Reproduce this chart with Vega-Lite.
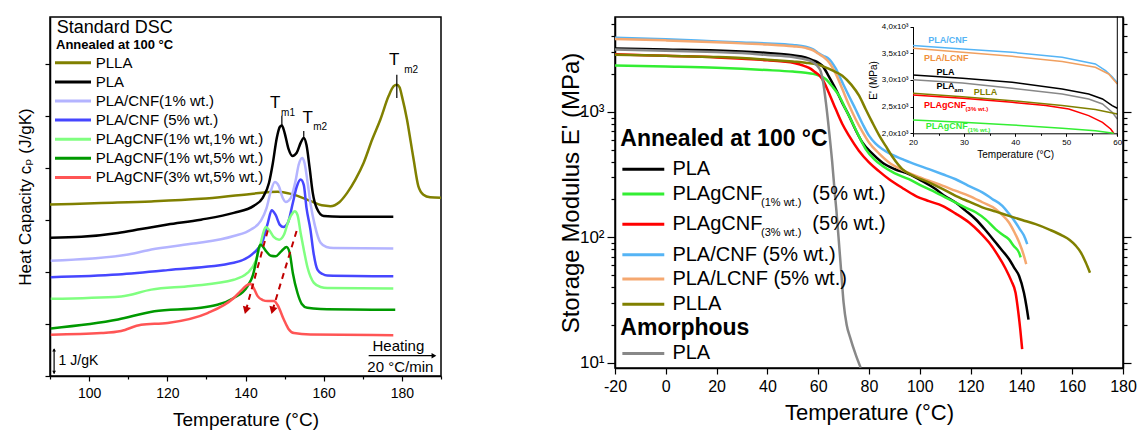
{
"$schema": "https://vega.github.io/schema/vega-lite/v6.json",
"background": "white",
"padding": {"left": 15, "top": 14, "right": 18, "bottom": 0},
"config": {
  "font": "Liberation Sans, DejaVu Sans, sans-serif",
  "view": {"stroke": "black", "strokeWidth": 1.5},
  "axis": {"grid": false, "labelOverlap": false, "domainColor": "black", "domainWidth": 1.5, "tickColor": "black", "tickWidth": 1.2, "labelColor": "black", "titleColor": "black", "titleFontWeight": "normal"},
  "text": {"color": "black"}
},
"datasets": {
  "dsc": [
    {"sample":"PLLA","T":90,"cp":6.59},{"sample":"PLLA","T":103.1,"cp":6.65},{"sample":"PLLA","T":115.9,"cp":6.71},{"sample":"PLLA","T":128.6,"cp":6.81},{"sample":"PLLA","T":141.4,"cp":7.0},{"sample":"PLLA","T":148.2,"cp":7.08},{"sample":"PLLA","T":151.6,"cp":7.0},{"sample":"PLLA","T":156.6,"cp":6.73},{"sample":"PLLA","T":159.5,"cp":6.56},{"sample":"PLLA","T":161.7,"cp":6.53},{"sample":"PLLA","T":164,"cp":6.68},{"sample":"PLLA","T":166,"cp":7.04},{"sample":"PLLA","T":168.1,"cp":7.55},{"sample":"PLLA","T":170.2,"cp":8.19},{"sample":"PLLA","T":172.4,"cp":9.09},{"sample":"PLLA","T":174.5,"cp":9.86},{"sample":"PLLA","T":176.6,"cp":10.76},{"sample":"PLLA","T":177.9,"cp":11.14},{"sample":"PLLA","T":178.7,"cp":11.2},{"sample":"PLLA","T":179.4,"cp":11.1},{"sample":"PLLA","T":180.0,"cp":10.76},{"sample":"PLLA","T":181.3,"cp":9.86},{"sample":"PLLA","T":182.3,"cp":8.96},{"sample":"PLLA","T":183.0,"cp":8.32},{"sample":"PLLA","T":184.2,"cp":7.3},{"sample":"PLLA","T":185.5,"cp":6.97},{"sample":"PLLA","T":187.2,"cp":6.87},{"sample":"PLLA","T":190,"cp":6.85},
    {"sample":"PLA","T":90.2,"cp":5.31},{"sample":"PLA","T":98.05,"cp":5.35},{"sample":"PLA","T":107.4,"cp":5.5},{"sample":"PLA","T":113.3,"cp":5.65},{"sample":"PLA","T":120.1,"cp":5.82},{"sample":"PLA","T":128.6,"cp":6.01},{"sample":"PLA","T":137.0,"cp":6.27},{"sample":"PLA","T":142.1,"cp":6.54},{"sample":"PLA","T":144.4,"cp":6.85},{"sample":"PLA","T":146.0,"cp":7.42},{"sample":"PLA","T":147.0,"cp":8.19},{"sample":"PLA","T":148.0,"cp":9.15},{"sample":"PLA","T":148.8,"cp":9.58},{"sample":"PLA","T":149.3,"cp":9.63},{"sample":"PLA","T":150.0,"cp":9.35},{"sample":"PLA","T":151.0,"cp":8.73},{"sample":"PLA","T":152.0,"cp":8.46},{"sample":"PLA","T":153.1,"cp":8.58},{"sample":"PLA","T":154.1,"cp":8.96},{"sample":"PLA","T":154.9,"cp":9.15},{"sample":"PLA","T":155.6,"cp":8.88},{"sample":"PLA","T":156.4,"cp":8.0},{"sample":"PLA","T":157.2,"cp":7.04},{"sample":"PLA","T":158.2,"cp":6.46},{"sample":"PLA","T":160.0,"cp":6.15},{"sample":"PLA","T":164.3,"cp":6.12},{"sample":"PLA","T":177.8,"cp":6.12},
    {"sample":"PLA/CNF(1% wt.)","T":90.2,"cp":4.43},{"sample":"PLA/CNF(1% wt.)","T":110.0,"cp":4.67},{"sample":"PLA/CNF(1% wt.)","T":115.9,"cp":4.86},{"sample":"PLA/CNF(1% wt.)","T":126.1,"cp":5.08},{"sample":"PLA/CNF(1% wt.)","T":137.0,"cp":5.38},{"sample":"PLA/CNF(1% wt.)","T":141.4,"cp":5.63},{"sample":"PLA/CNF(1% wt.)","T":143.9,"cp":5.96},{"sample":"PLA/CNF(1% wt.)","T":145.4,"cp":6.46},{"sample":"PLA/CNF(1% wt.)","T":146.5,"cp":7.12},{"sample":"PLA/CNF(1% wt.)","T":147.5,"cp":7.46},{"sample":"PLA/CNF(1% wt.)","T":148.5,"cp":7.31},{"sample":"PLA/CNF(1% wt.)","T":149.5,"cp":6.85},{"sample":"PLA/CNF(1% wt.)","T":150.3,"cp":6.69},{"sample":"PLA/CNF(1% wt.)","T":151.6,"cp":6.85},{"sample":"PLA/CNF(1% wt.)","T":152.8,"cp":7.5},{"sample":"PLA/CNF(1% wt.)","T":153.6,"cp":8.12},{"sample":"PLA/CNF(1% wt.)","T":154.5,"cp":8.38},{"sample":"PLA/CNF(1% wt.)","T":155.1,"cp":8.19},{"sample":"PLA/CNF(1% wt.)","T":155.9,"cp":7.42},{"sample":"PLA/CNF(1% wt.)","T":156.6,"cp":6.65},{"sample":"PLA/CNF(1% wt.)","T":157.7,"cp":5.81},{"sample":"PLA/CNF(1% wt.)","T":159.2,"cp":5.12},{"sample":"PLA/CNF(1% wt.)","T":160.7,"cp":4.96},{"sample":"PLA/CNF(1% wt.)","T":162.5,"cp":4.92},{"sample":"PLA/CNF(1% wt.)","T":177.8,"cp":4.9},
    {"sample":"PLA/CNF (5% wt.)","T":90.2,"cp":3.8},{"sample":"PLA/CNF (5% wt.)","T":107.4,"cp":3.9},{"sample":"PLA/CNF (5% wt.)","T":120.1,"cp":4.07},{"sample":"PLA/CNF (5% wt.)","T":137.0,"cp":4.35},{"sample":"PLA/CNF (5% wt.)","T":142.1,"cp":4.73},{"sample":"PLA/CNF (5% wt.)","T":144.4,"cp":5.19},{"sample":"PLA/CNF (5% wt.)","T":145.7,"cp":5.88},{"sample":"PLA/CNF (5% wt.)","T":146.7,"cp":6.37},{"sample":"PLA/CNF (5% wt.)","T":147.7,"cp":6.19},{"sample":"PLA/CNF (5% wt.)","T":148.8,"cp":5.81},{"sample":"PLA/CNF (5% wt.)","T":149.7,"cp":5.73},{"sample":"PLA/CNF (5% wt.)","T":150.8,"cp":5.88},{"sample":"PLA/CNF (5% wt.)","T":152.1,"cp":6.65},{"sample":"PLA/CNF (5% wt.)","T":153.1,"cp":7.27},{"sample":"PLA/CNF (5% wt.)","T":154.1,"cp":7.55},{"sample":"PLA/CNF (5% wt.)","T":154.9,"cp":7.35},{"sample":"PLA/CNF (5% wt.)","T":155.6,"cp":6.46},{"sample":"PLA/CNF (5% wt.)","T":156.6,"cp":5.63},{"sample":"PLA/CNF (5% wt.)","T":157.4,"cp":4.73},{"sample":"PLA/CNF (5% wt.)","T":158.4,"cp":4.09},{"sample":"PLA/CNF (5% wt.)","T":159.7,"cp":3.92},{"sample":"PLA/CNF (5% wt.)","T":160.9,"cp":3.86},{"sample":"PLA/CNF (5% wt.)","T":177.8,"cp":3.83},
    {"sample":"PLAgCNF(1% wt,1% wt.)","T":90.2,"cp":2.97},{"sample":"PLAgCNF(1% wt,1% wt.)","T":108.2,"cp":3.06},{"sample":"PLAgCNF(1% wt,1% wt.)","T":115.9,"cp":3.32},{"sample":"PLAgCNF(1% wt,1% wt.)","T":126.1,"cp":3.46},{"sample":"PLAgCNF(1% wt,1% wt.)","T":137.0,"cp":3.7},{"sample":"PLAgCNF(1% wt,1% wt.)","T":140.5,"cp":3.96},{"sample":"PLAgCNF(1% wt,1% wt.)","T":142.6,"cp":4.42},{"sample":"PLAgCNF(1% wt,1% wt.)","T":143.9,"cp":5.12},{"sample":"PLAgCNF(1% wt,1% wt.)","T":144.7,"cp":5.58},{"sample":"PLAgCNF(1% wt,1% wt.)","T":145.2,"cp":5.73},{"sample":"PLAgCNF(1% wt,1% wt.)","T":146.2,"cp":5.58},{"sample":"PLAgCNF(1% wt,1% wt.)","T":147.2,"cp":5.35},{"sample":"PLAgCNF(1% wt,1% wt.)","T":148.6,"cp":5.24},{"sample":"PLAgCNF(1% wt,1% wt.)","T":149.8,"cp":5.42},{"sample":"PLAgCNF(1% wt,1% wt.)","T":151.0,"cp":5.96},{"sample":"PLAgCNF(1% wt,1% wt.)","T":152.1,"cp":6.27},{"sample":"PLAgCNF(1% wt,1% wt.)","T":152.6,"cp":6.33},{"sample":"PLAgCNF(1% wt,1% wt.)","T":153.3,"cp":6.19},{"sample":"PLAgCNF(1% wt,1% wt.)","T":154.1,"cp":5.5},{"sample":"PLAgCNF(1% wt,1% wt.)","T":154.9,"cp":4.86},{"sample":"PLAgCNF(1% wt,1% wt.)","T":155.9,"cp":4.15},{"sample":"PLAgCNF(1% wt,1% wt.)","T":157.5,"cp":3.58},{"sample":"PLAgCNF(1% wt,1% wt.)","T":159.2,"cp":3.42},{"sample":"PLAgCNF(1% wt,1% wt.)","T":160.9,"cp":3.38},{"sample":"PLAgCNF(1% wt,1% wt.)","T":177.8,"cp":3.36},
    {"sample":"PLAgCNF(1% wt,5% wt.)","T":90.2,"cp":1.83},{"sample":"PLAgCNF(1% wt,5% wt.)","T":107.4,"cp":2.17},{"sample":"PLAgCNF(1% wt,5% wt.)","T":116.7,"cp":2.49},{"sample":"PLAgCNF(1% wt,5% wt.)","T":128.6,"cp":2.62},{"sample":"PLAgCNF(1% wt,5% wt.)","T":137.0,"cp":3.0},{"sample":"PLAgCNF(1% wt,5% wt.)","T":140.5,"cp":3.45},{"sample":"PLAgCNF(1% wt,5% wt.)","T":141.9,"cp":3.88},{"sample":"PLAgCNF(1% wt,5% wt.)","T":142.9,"cp":4.54},{"sample":"PLAgCNF(1% wt,5% wt.)","T":143.4,"cp":4.92},{"sample":"PLAgCNF(1% wt,5% wt.)","T":143.9,"cp":5.05},{"sample":"PLAgCNF(1% wt,5% wt.)","T":145.2,"cp":4.81},{"sample":"PLAgCNF(1% wt,5% wt.)","T":146.5,"cp":4.62},{"sample":"PLAgCNF(1% wt,5% wt.)","T":147.7,"cp":4.6},{"sample":"PLAgCNF(1% wt,5% wt.)","T":149.0,"cp":4.77},{"sample":"PLAgCNF(1% wt,5% wt.)","T":150.5,"cp":4.96},{"sample":"PLAgCNF(1% wt,5% wt.)","T":151.3,"cp":4.73},{"sample":"PLAgCNF(1% wt,5% wt.)","T":152.1,"cp":3.96},{"sample":"PLAgCNF(1% wt,5% wt.)","T":153.3,"cp":3.19},{"sample":"PLAgCNF(1% wt,5% wt.)","T":154.4,"cp":2.77},{"sample":"PLAgCNF(1% wt,5% wt.)","T":155.8,"cp":2.62},{"sample":"PLAgCNF(1% wt,5% wt.)","T":159.2,"cp":2.58},{"sample":"PLAgCNF(1% wt,5% wt.)","T":178.3,"cp":2.55},
    {"sample":"PLAgCNF(3% wt,5% wt.)","T":90.2,"cp":1.59},{"sample":"PLAgCNF(3% wt,5% wt.)","T":103.1,"cp":1.65},{"sample":"PLAgCNF(3% wt,5% wt.)","T":108.2,"cp":1.73},{"sample":"PLAgCNF(3% wt,5% wt.)","T":113.3,"cp":1.97},{"sample":"PLAgCNF(3% wt,5% wt.)","T":120.1,"cp":2.04},{"sample":"PLAgCNF(3% wt,5% wt.)","T":130.3,"cp":2.42},{"sample":"PLAgCNF(3% wt,5% wt.)","T":137.0,"cp":3.0},{"sample":"PLAgCNF(3% wt,5% wt.)","T":138.8,"cp":3.27},{"sample":"PLAgCNF(3% wt,5% wt.)","T":140.1,"cp":3.46},{"sample":"PLAgCNF(3% wt,5% wt.)","T":141.2,"cp":3.55},{"sample":"PLAgCNF(3% wt,5% wt.)","T":142.1,"cp":3.38},{"sample":"PLAgCNF(3% wt,5% wt.)","T":143.1,"cp":3.07},{"sample":"PLAgCNF(3% wt,5% wt.)","T":144.4,"cp":2.92},{"sample":"PLAgCNF(3% wt,5% wt.)","T":145.7,"cp":2.88},{"sample":"PLAgCNF(3% wt,5% wt.)","T":147.3,"cp":2.88},{"sample":"PLAgCNF(3% wt,5% wt.)","T":148.2,"cp":2.73},{"sample":"PLAgCNF(3% wt,5% wt.)","T":149.8,"cp":2.17},{"sample":"PLAgCNF(3% wt,5% wt.)","T":151.0,"cp":1.81},{"sample":"PLAgCNF(3% wt,5% wt.)","T":152.4,"cp":1.65},{"sample":"PLAgCNF(3% wt,5% wt.)","T":156.6,"cp":1.6},{"sample":"PLAgCNF(3% wt,5% wt.)","T":177.8,"cp":1.57}
  ],
  "arrows": [
    {"arrow":"a","T":146.0,"cp":5.76,"end":false},{"arrow":"a","T":140.1,"cp":2.52,"end":true},
    {"arrow":"b","T":153.3,"cp":5.69,"end":false},{"arrow":"b","T":146.9,"cp":2.52,"end":true}
  ],
  "dma": [
    {"sample":"PLA","T":-20,"E":3210},{"sample":"PLA","T":0,"E":3150},{"sample":"PLA","T":20,"E":3090},{"sample":"PLA","T":30,"E":3030},{"sample":"PLA","T":40,"E":2955},{"sample":"PLA","T":50,"E":2830},{"sample":"PLA","T":55,"E":2720},{"sample":"PLA","T":58,"E":2580},{"sample":"PLA","T":60,"E":2470},{"sample":"PLA","T":61.6,"E":2340},{"sample":"PLA","T":64,"E":1950},{"sample":"PLA","T":66.9,"E":1520},{"sample":"PLA","T":69.5,"E":1180},{"sample":"PLA","T":72.1,"E":933},{"sample":"PLA","T":74.7,"E":720},{"sample":"PLA","T":77.4,"E":570},{"sample":"PLA","T":81,"E":470},{"sample":"PLA","T":85.2,"E":395},{"sample":"PLA","T":90,"E":350},{"sample":"PLA","T":95.7,"E":319},{"sample":"PLA","T":101,"E":280},{"sample":"PLA","T":106.2,"E":242},{"sample":"PLA","T":110,"E":212},{"sample":"PLA","T":114.1,"E":189},{"sample":"PLA","T":118,"E":163},{"sample":"PLA","T":122,"E":139},{"sample":"PLA","T":126,"E":113},{"sample":"PLA","T":129.8,"E":91},{"sample":"PLA","T":132.5,"E":78},{"sample":"PLA","T":135.1,"E":67},{"sample":"PLA","T":137.2,"E":57},{"sample":"PLA","T":139.1,"E":49},{"sample":"PLA","T":141,"E":36},{"sample":"PLA","T":142,"E":28},{"sample":"PLA","T":142.8,"E":22},
    {"sample":"PLAgCNF (1% wt.)","T":-20,"E":2340},{"sample":"PLAgCNF (1% wt.)","T":0,"E":2300},{"sample":"PLAgCNF (1% wt.)","T":20,"E":2250},{"sample":"PLAgCNF (1% wt.)","T":30,"E":2205},{"sample":"PLAgCNF (1% wt.)","T":40,"E":2155},{"sample":"PLAgCNF (1% wt.)","T":50,"E":2095},{"sample":"PLAgCNF (1% wt.)","T":55,"E":2050},{"sample":"PLAgCNF (1% wt.)","T":58,"E":2010},{"sample":"PLAgCNF (1% wt.)","T":60,"E":1960},{"sample":"PLAgCNF (1% wt.)","T":62.9,"E":1829},{"sample":"PLAgCNF (1% wt.)","T":65.5,"E":1600},{"sample":"PLAgCNF (1% wt.)","T":68.2,"E":1347},{"sample":"PLAgCNF (1% wt.)","T":70.8,"E":1050},{"sample":"PLAgCNF (1% wt.)","T":73.4,"E":825},{"sample":"PLAgCNF (1% wt.)","T":76,"E":640},{"sample":"PLAgCNF (1% wt.)","T":78.7,"E":505},{"sample":"PLAgCNF (1% wt.)","T":82,"E":420},{"sample":"PLAgCNF (1% wt.)","T":85.2,"E":372},{"sample":"PLAgCNF (1% wt.)","T":90,"E":325},{"sample":"PLAgCNF (1% wt.)","T":95.7,"E":290},{"sample":"PLAgCNF (1% wt.)","T":101,"E":255},{"sample":"PLAgCNF (1% wt.)","T":106.2,"E":228},{"sample":"PLAgCNF (1% wt.)","T":110,"E":208},{"sample":"PLAgCNF (1% wt.)","T":114.1,"E":189},{"sample":"PLAgCNF (1% wt.)","T":118,"E":172},{"sample":"PLAgCNF (1% wt.)","T":122,"E":158},{"sample":"PLAgCNF (1% wt.)","T":126,"E":138},{"sample":"PLAgCNF (1% wt.)","T":129.8,"E":116},{"sample":"PLAgCNF (1% wt.)","T":132.5,"E":105},{"sample":"PLAgCNF (1% wt.)","T":135.1,"E":96},{"sample":"PLAgCNF (1% wt.)","T":137,"E":85},{"sample":"PLAgCNF (1% wt.)","T":139.1,"E":75},{"sample":"PLAgCNF (1% wt.)","T":139.7,"E":69},
    {"sample":"PLAgCNF (3% wt.)","T":-20,"E":2880},{"sample":"PLAgCNF (3% wt.)","T":0,"E":2800},{"sample":"PLAgCNF (3% wt.)","T":20,"E":2720},{"sample":"PLAgCNF (3% wt.)","T":30,"E":2655},{"sample":"PLAgCNF (3% wt.)","T":40,"E":2580},{"sample":"PLAgCNF (3% wt.)","T":46,"E":2520},{"sample":"PLAgCNF (3% wt.)","T":50.5,"E":2455},{"sample":"PLAgCNF (3% wt.)","T":54.4,"E":2330},{"sample":"PLAgCNF (3% wt.)","T":57.1,"E":2205},{"sample":"PLAgCNF (3% wt.)","T":58.7,"E":2080},{"sample":"PLAgCNF (3% wt.)","T":60,"E":1990},{"sample":"PLAgCNF (3% wt.)","T":61.6,"E":1829},{"sample":"PLAgCNF (3% wt.)","T":64,"E":1450},{"sample":"PLAgCNF (3% wt.)","T":66.9,"E":1052},{"sample":"PLAgCNF (3% wt.)","T":69.5,"E":800},{"sample":"PLAgCNF (3% wt.)","T":72.1,"E":646},{"sample":"PLAgCNF (3% wt.)","T":76,"E":490},{"sample":"PLAgCNF (3% wt.)","T":80,"E":395},{"sample":"PLAgCNF (3% wt.)","T":84,"E":335},{"sample":"PLAgCNF (3% wt.)","T":87.9,"E":290},{"sample":"PLAgCNF (3% wt.)","T":93,"E":248},{"sample":"PLAgCNF (3% wt.)","T":98.3,"E":214},{"sample":"PLAgCNF (3% wt.)","T":103.6,"E":194},{"sample":"PLAgCNF (3% wt.)","T":108.9,"E":178},{"sample":"PLAgCNF (3% wt.)","T":114,"E":155},{"sample":"PLAgCNF (3% wt.)","T":119.4,"E":131},{"sample":"PLAgCNF (3% wt.)","T":123.5,"E":110},{"sample":"PLAgCNF (3% wt.)","T":127.2,"E":91},{"sample":"PLAgCNF (3% wt.)","T":130.5,"E":73},{"sample":"PLAgCNF (3% wt.)","T":133.8,"E":56},{"sample":"PLAgCNF (3% wt.)","T":136,"E":45},{"sample":"PLAgCNF (3% wt.)","T":137.7,"E":36},{"sample":"PLAgCNF (3% wt.)","T":138.8,"E":25},{"sample":"PLAgCNF (3% wt.)","T":139.6,"E":18},{"sample":"PLAgCNF (3% wt.)","T":140.3,"E":12.8},
    {"sample":"PLA/CNF (5% wt.)","T":-20,"E":3900},{"sample":"PLA/CNF (5% wt.)","T":0,"E":3800},{"sample":"PLA/CNF (5% wt.)","T":20,"E":3650},{"sample":"PLA/CNF (5% wt.)","T":30,"E":3580},{"sample":"PLA/CNF (5% wt.)","T":40,"E":3520},{"sample":"PLA/CNF (5% wt.)","T":50,"E":3420},{"sample":"PLA/CNF (5% wt.)","T":55,"E":3310},{"sample":"PLA/CNF (5% wt.)","T":58,"E":3150},{"sample":"PLA/CNF (5% wt.)","T":60,"E":2950},{"sample":"PLA/CNF (5% wt.)","T":62,"E":2800},{"sample":"PLA/CNF (5% wt.)","T":64.3,"E":2640},{"sample":"PLA/CNF (5% wt.)","T":67,"E":2200},{"sample":"PLA/CNF (5% wt.)","T":69.5,"E":1720},{"sample":"PLA/CNF (5% wt.)","T":72,"E":1350},{"sample":"PLA/CNF (5% wt.)","T":74.7,"E":1050},{"sample":"PLA/CNF (5% wt.)","T":77.5,"E":800},{"sample":"PLA/CNF (5% wt.)","T":80,"E":646},{"sample":"PLA/CNF (5% wt.)","T":82.5,"E":560},{"sample":"PLA/CNF (5% wt.)","T":85.2,"E":505},{"sample":"PLA/CNF (5% wt.)","T":89,"E":455},{"sample":"PLA/CNF (5% wt.)","T":93.1,"E":420},{"sample":"PLA/CNF (5% wt.)","T":98,"E":383},{"sample":"PLA/CNF (5% wt.)","T":103.6,"E":349},{"sample":"PLA/CNF (5% wt.)","T":109,"E":318},{"sample":"PLA/CNF (5% wt.)","T":114.1,"E":290},{"sample":"PLA/CNF (5% wt.)","T":119,"E":258},{"sample":"PLA/CNF (5% wt.)","T":124.6,"E":228},{"sample":"PLA/CNF (5% wt.)","T":128.5,"E":202},{"sample":"PLA/CNF (5% wt.)","T":132.5,"E":178},{"sample":"PLA/CNF (5% wt.)","T":135,"E":155},{"sample":"PLA/CNF (5% wt.)","T":137.7,"E":131},{"sample":"PLA/CNF (5% wt.)","T":139.5,"E":115},{"sample":"PLA/CNF (5% wt.)","T":141,"E":103},{"sample":"PLA/CNF (5% wt.)","T":142.3,"E":88},
    {"sample":"PLA/LCNF (5% wt.)","T":-20,"E":3820},{"sample":"PLA/LCNF (5% wt.)","T":0,"E":3720},{"sample":"PLA/LCNF (5% wt.)","T":20,"E":3600},{"sample":"PLA/LCNF (5% wt.)","T":30,"E":3520},{"sample":"PLA/LCNF (5% wt.)","T":40,"E":3450},{"sample":"PLA/LCNF (5% wt.)","T":50,"E":3340},{"sample":"PLA/LCNF (5% wt.)","T":55,"E":3240},{"sample":"PLA/LCNF (5% wt.)","T":58,"E":3100},{"sample":"PLA/LCNF (5% wt.)","T":60,"E":2920},{"sample":"PLA/LCNF (5% wt.)","T":62,"E":2750},{"sample":"PLA/LCNF (5% wt.)","T":64.3,"E":2480},{"sample":"PLA/LCNF (5% wt.)","T":67,"E":2000},{"sample":"PLA/LCNF (5% wt.)","T":69.5,"E":1520},{"sample":"PLA/LCNF (5% wt.)","T":72,"E":1150},{"sample":"PLA/LCNF (5% wt.)","T":74.7,"E":877},{"sample":"PLA/LCNF (5% wt.)","T":77.5,"E":690},{"sample":"PLA/LCNF (5% wt.)","T":80,"E":570},{"sample":"PLA/LCNF (5% wt.)","T":84,"E":465},{"sample":"PLA/LCNF (5% wt.)","T":87.9,"E":395},{"sample":"PLA/LCNF (5% wt.)","T":93,"E":345},{"sample":"PLA/LCNF (5% wt.)","T":98.3,"E":310},{"sample":"PLA/LCNF (5% wt.)","T":103.6,"E":282},{"sample":"PLA/LCNF (5% wt.)","T":108.9,"E":258},{"sample":"PLA/LCNF (5% wt.)","T":114,"E":235},{"sample":"PLA/LCNF (5% wt.)","T":119.4,"E":214},{"sample":"PLA/LCNF (5% wt.)","T":124.6,"E":190},{"sample":"PLA/LCNF (5% wt.)","T":129.8,"E":168},{"sample":"PLA/LCNF (5% wt.)","T":132.5,"E":150},{"sample":"PLA/LCNF (5% wt.)","T":135.1,"E":131},{"sample":"PLA/LCNF (5% wt.)","T":137.2,"E":110},{"sample":"PLA/LCNF (5% wt.)","T":139.1,"E":91},{"sample":"PLA/LCNF (5% wt.)","T":141,"E":71},{"sample":"PLA/LCNF (5% wt.)","T":141.9,"E":61},
    {"sample":"PLLA","T":-20,"E":2860},{"sample":"PLLA","T":0,"E":2800},{"sample":"PLLA","T":20,"E":2740},{"sample":"PLLA","T":30,"E":2690},{"sample":"PLLA","T":40,"E":2610},{"sample":"PLLA","T":50,"E":2520},{"sample":"PLLA","T":55,"E":2470},{"sample":"PLLA","T":60,"E":2380},{"sample":"PLLA","T":62.9,"E":2265},{"sample":"PLLA","T":66,"E":2120},{"sample":"PLLA","T":69.5,"E":1945},{"sample":"PLLA","T":73,"E":1650},{"sample":"PLLA","T":76.1,"E":1347},{"sample":"PLLA","T":78.7,"E":1050},{"sample":"PLLA","T":81.3,"E":825},{"sample":"PLLA","T":84,"E":650},{"sample":"PLLA","T":86.5,"E":537},{"sample":"PLLA","T":89.5,"E":430},{"sample":"PLLA","T":93.1,"E":349},{"sample":"PLLA","T":98,"E":305},{"sample":"PLLA","T":103.6,"E":274},{"sample":"PLLA","T":108.9,"E":243},{"sample":"PLLA","T":114.1,"E":214},{"sample":"PLLA","T":119.4,"E":192},{"sample":"PLLA","T":124.6,"E":173},{"sample":"PLLA","T":130,"E":160},{"sample":"PLLA","T":135.1,"E":148},{"sample":"PLLA","T":140.3,"E":137},{"sample":"PLLA","T":145.6,"E":127},{"sample":"PLLA","T":151,"E":115},{"sample":"PLLA","T":156.1,"E":103},{"sample":"PLLA","T":159,"E":95},{"sample":"PLLA","T":161.3,"E":86},{"sample":"PLLA","T":163.5,"E":75},{"sample":"PLLA","T":165.3,"E":63},{"sample":"PLLA","T":167,"E":52},
    {"sample":"PLA (amorphous)","T":-20,"E":3140},{"sample":"PLA (amorphous)","T":0,"E":3080},{"sample":"PLA (amorphous)","T":20,"E":3000},{"sample":"PLA (amorphous)","T":30,"E":2945},{"sample":"PLA (amorphous)","T":40,"E":2845},{"sample":"PLA (amorphous)","T":50,"E":2740},{"sample":"PLA (amorphous)","T":54,"E":2650},{"sample":"PLA (amorphous)","T":57,"E":2550},{"sample":"PLA (amorphous)","T":59,"E":2400},{"sample":"PLA (amorphous)","T":60,"E":2280},{"sample":"PLA (amorphous)","T":61,"E":2100},{"sample":"PLA (amorphous)","T":62,"E":1700},{"sample":"PLA (amorphous)","T":63,"E":1200},{"sample":"PLA (amorphous)","T":64.3,"E":700},{"sample":"PLA (amorphous)","T":65.5,"E":400},{"sample":"PLA (amorphous)","T":66.5,"E":230},{"sample":"PLA (amorphous)","T":67.2,"E":160},{"sample":"PLA (amorphous)","T":68,"E":100},{"sample":"PLA (amorphous)","T":69,"E":55},{"sample":"PLA (amorphous)","T":70,"E":30},{"sample":"PLA (amorphous)","T":71.2,"E":20},{"sample":"PLA (amorphous)","T":72.5,"E":16},{"sample":"PLA (amorphous)","T":74.8,"E":11.5},{"sample":"PLA (amorphous)","T":76.7,"E":9.1}
  ],
  "inset": [
    {"sample":"PLA/CNF (5% wt.)","T":20,"E":3644},{"sample":"PLA/CNF (5% wt.)","T":29.7,"E":3581},{"sample":"PLA/CNF (5% wt.)","T":39.4,"E":3519},{"sample":"PLA/CNF (5% wt.)","T":49.2,"E":3425},{"sample":"PLA/CNF (5% wt.)","T":55.7,"E":3300},{"sample":"PLA/CNF (5% wt.)","T":57.7,"E":3175},{"sample":"PLA/CNF (5% wt.)","T":59,"E":3060},{"sample":"PLA/CNF (5% wt.)","T":60,"E":2950},
    {"sample":"PLA/LCNF (5% wt.)","T":20,"E":3594},{"sample":"PLA/LCNF (5% wt.)","T":29.7,"E":3519},{"sample":"PLA/LCNF (5% wt.)","T":39.4,"E":3444},{"sample":"PLA/LCNF (5% wt.)","T":49.2,"E":3344},{"sample":"PLA/LCNF (5% wt.)","T":55.7,"E":3237},{"sample":"PLA/LCNF (5% wt.)","T":58.3,"E":3112},{"sample":"PLA/LCNF (5% wt.)","T":60,"E":2925},
    {"sample":"PLA","T":20,"E":3094},{"sample":"PLA","T":29.7,"E":3031},{"sample":"PLA","T":39.4,"E":2956},{"sample":"PLA","T":49.2,"E":2831},{"sample":"PLA","T":54.4,"E":2737},{"sample":"PLA","T":57.1,"E":2644},{"sample":"PLA","T":59,"E":2519},{"sample":"PLA","T":60,"E":2469},
    {"sample":"PLA (amorphous)","T":20,"E":3006},{"sample":"PLA (amorphous)","T":29.7,"E":2944},{"sample":"PLA (amorphous)","T":39.4,"E":2844},{"sample":"PLA (amorphous)","T":49.2,"E":2737},{"sample":"PLA (amorphous)","T":54.4,"E":2644},{"sample":"PLA (amorphous)","T":57.1,"E":2550},{"sample":"PLA (amorphous)","T":59,"E":2394},{"sample":"PLA (amorphous)","T":60,"E":2269},
    {"sample":"PLLA","T":20,"E":2750},{"sample":"PLLA","T":29.7,"E":2687},{"sample":"PLLA","T":39.4,"E":2612},{"sample":"PLLA","T":49.2,"E":2519},{"sample":"PLLA","T":55.7,"E":2444},{"sample":"PLLA","T":60,"E":2362},
    {"sample":"PLAgCNF (3% wt.)","T":20,"E":2719},{"sample":"PLAgCNF (3% wt.)","T":29.7,"E":2656},{"sample":"PLAgCNF (3% wt.)","T":39.4,"E":2581},{"sample":"PLAgCNF (3% wt.)","T":46,"E":2519},{"sample":"PLAgCNF (3% wt.)","T":50.5,"E":2456},{"sample":"PLAgCNF (3% wt.)","T":54.4,"E":2331},{"sample":"PLAgCNF (3% wt.)","T":57.1,"E":2206},{"sample":"PLAgCNF (3% wt.)","T":58.7,"E":2081},{"sample":"PLAgCNF (3% wt.)","T":59.3,"E":2000},
    {"sample":"PLAgCNF (1% wt.)","T":20,"E":2250},{"sample":"PLAgCNF (1% wt.)","T":29.7,"E":2206},{"sample":"PLAgCNF (1% wt.)","T":39.4,"E":2156},{"sample":"PLAgCNF (1% wt.)","T":49.2,"E":2094},{"sample":"PLAgCNF (1% wt.)","T":55.7,"E":2050},{"sample":"PLAgCNF (1% wt.)","T":59.3,"E":2000}
  ]
},
"spacing": 111,
"hconcat": [
 {
  "width": 391, "height": 359,
  "layer": [
   {
    "layer": [
     {
      "data": {"name": "dsc"},
      "mark": {"type": "line", "strokeWidth": 2.5, "interpolate": "monotone"},
      "encoding": {
       "x": {"field": "T", "type": "quantitative", "scale": {"domain": [90, 190], "nice": false},
         "axis": {"title": "Temperature (°C)", "values": [100,120,140,160,180], "labels": true, "labelOverlap": false, "labelFlush": false, "tickSize": 5, "labelFontSize": 14, "titleFontSize": 19, "labelPadding": 5, "titlePadding": 10}},
       "y": {"field": "cp", "type": "quantitative", "scale": {"domain": [0, 13.8], "nice": false},
         "axis": {"title": "Heat Capacity cₚ (J/gK)", "values": [0,0.5,1,1.5,2,2.5,3,3.5,4,4.5,5,5.5,6,6.5,7,7.5,8,8.5,9,9.5,10,10.5,11,11.5,12,12.5,13,13.5], "labels": false, "tickSize": 5, "titleFontSize": 17, "titlePadding": 10}},
       "color": {"field": "sample", "type": "nominal",
         "scale": {"domain": ["PLLA","PLA","PLA/CNF(1% wt.)","PLA/CNF (5% wt.)","PLAgCNF(1% wt,1% wt.)","PLAgCNF(1% wt,5% wt.)","PLAgCNF(3% wt,5% wt.)"], "range": ["#808000","#000000","#b4b4ff","#4646ff","#80ff80","#009900","#ff5555"]},
         "legend": {"orient": "none", "legendX": 6, "legendY": 22, "padding": 0, "title": "Annealed at 100 °C", "titleFontSize": 13, "titleFontWeight": "bold", "titleColor": "black", "titlePadding": 3.3, "labelFontSize": 15, "labelColor": "black", "labelLimit": 400, "labelOffset": 24.7, "symbolType": "M-1.7,0H5.5", "symbolSize": 100, "symbolStrokeWidth": 3, "rowPadding": 3.1}}
      }
     },
     {
      "data": {"name": "arrows"},
      "mark": {"type": "line", "strokeDash": [6, 5], "strokeWidth": 2, "color": "#c00000"},
      "encoding": {"x": {"field": "T", "type": "quantitative"}, "y": {"field": "cp", "type": "quantitative"}, "detail": {"field": "arrow"}}
     },
     {
      "data": {"name": "arrows"},
      "transform": [{"filter": "datum.end"}],
      "mark": {"type": "point", "shape": "triangle-down", "filled": true, "size": 70, "angle": 16, "color": "#c00000", "opacity": 1},
      "encoding": {"x": {"field": "T", "type": "quantitative"}, "y": {"field": "cp", "type": "quantitative"}}
     },
     {"data": {"values": [{}]}, "mark": {"type": "text", "align": "left", "baseline": "middle", "fontSize": 18}, "encoding": {"x": {"datum": 91.7}, "y": {"datum": 13.38}, "text": {"value": "Standard DSC"}}},
     {"data": {"values": [{}]}, "mark": {"type": "text", "align": "center", "baseline": "middle", "fontSize": 17}, "encoding": {"x": {"datum": 147.6}, "y": {"datum": 10.48}, "text": {"value": "T"}}},
     {"data": {"values": [{}]}, "mark": {"type": "text", "align": "left", "baseline": "middle", "fontSize": 10}, "encoding": {"x": {"datum": 149.1}, "y": {"datum": 10.12}, "text": {"value": "m1"}}},
     {"data": {"values": [{}]}, "mark": {"type": "rule", "strokeWidth": 1.2, "color": "black"}, "encoding": {"x": {"datum": 149.3}, "y": {"datum": 10.0}, "y2": {"datum": 9.62}}},
     {"data": {"values": [{}]}, "mark": {"type": "text", "align": "center", "baseline": "middle", "fontSize": 17}, "encoding": {"x": {"datum": 155.9}, "y": {"datum": 9.9}, "text": {"value": "T"}}},
     {"data": {"values": [{}]}, "mark": {"type": "text", "align": "left", "baseline": "middle", "fontSize": 10}, "encoding": {"x": {"datum": 157.3}, "y": {"datum": 9.58}, "text": {"value": "m2"}}},
     {"data": {"values": [{}]}, "mark": {"type": "rule", "strokeWidth": 1.2, "color": "black"}, "encoding": {"x": {"datum": 154.9}, "y": {"datum": 9.42}, "y2": {"datum": 9.15}}},
     {"data": {"values": [{}]}, "mark": {"type": "text", "align": "center", "baseline": "middle", "fontSize": 17}, "encoding": {"x": {"datum": 178.0}, "y": {"datum": 12.13}, "text": {"value": "T"}}},
     {"data": {"values": [{}]}, "mark": {"type": "text", "align": "left", "baseline": "middle", "fontSize": 10}, "encoding": {"x": {"datum": 180.6}, "y": {"datum": 11.78}, "text": {"value": "m2"}}},
     {"data": {"values": [{}]}, "mark": {"type": "rule", "strokeWidth": 1.2, "color": "black"}, "encoding": {"x": {"datum": 178.7}, "y": {"datum": 11.58}, "y2": {"datum": 10.69}}},
     {"data": {"values": [{}]}, "mark": {"type": "text", "align": "center", "baseline": "middle", "fontSize": 15}, "encoding": {"x": {"datum": 179.1}, "y": {"datum": 1.14}, "text": {"value": "Heating"}}},
     {"data": {"values": [{}]}, "mark": {"type": "rule", "strokeWidth": 1.2, "color": "black"}, "encoding": {"x": {"datum": 171.5}, "x2": {"datum": 188.0}, "y": {"datum": 0.78}}},
     {"data": {"values": [{}]}, "mark": {"type": "point", "shape": "triangle-right", "filled": true, "size": 30, "color": "black", "opacity": 1}, "encoding": {"x": {"datum": 188.2}, "y": {"datum": 0.78}}},
     {"data": {"values": [{}]}, "mark": {"type": "text", "align": "center", "baseline": "middle", "fontSize": 15}, "encoding": {"x": {"datum": 179.6}, "y": {"datum": 0.33}, "text": {"value": "20 °C/min"}}},
     {"data": {"values": [{}]}, "mark": {"type": "rule", "strokeWidth": 1.2, "color": "black"}, "encoding": {"x": {"datum": 91.05}, "y": {"datum": 0.1}, "y2": {"datum": 1.04}}},
     {"data": {"values": [{}]}, "mark": {"type": "point", "shape": "triangle-up", "filled": true, "size": 14, "color": "black", "opacity": 1}, "encoding": {"x": {"datum": 91.05}, "y": {"datum": 1.0}}},
     {"data": {"values": [{}]}, "mark": {"type": "point", "shape": "triangle-down", "filled": true, "size": 14, "color": "black", "opacity": 1}, "encoding": {"x": {"datum": 91.05}, "y": {"datum": 0.14}}},
     {"data": {"values": [{}]}, "mark": {"type": "text", "align": "left", "baseline": "middle", "fontSize": 14}, "encoding": {"x": {"datum": 92.2}, "y": {"datum": 0.56}, "text": {"value": "1 J/gK"}}}
    ]
   },
   {
    "data": {"values": [{}]},
    "mark": {"type": "rule", "opacity": 0},
    "encoding": {"x": {"datum": 150, "axis": {"orient": "bottom", "title": null, "labels": false, "domain": false, "values": [90,110,130,150,170,190], "tickSize": 3}}}
   }
  ],
  "resolve": {"axis": {"x": "independent"}}
 },
 {
  "width": 508, "height": 351,
  "layer": [
   {
    "layer": [
     {
      "layer": [
       {
        "data": {"name": "dma"},
        "mark": {"type": "line", "strokeWidth": 2.5, "interpolate": "monotone"},
        "encoding": {
         "x": {"field": "T", "type": "quantitative", "scale": {"domain": [-20, 180], "nice": false},
           "axis": {"title": "Temperature (°C)", "values": [-20,-10,0,10,20,30,40,50,60,70,80,90,100,110,120,130,140,150,160,170,180], "labelExpr": "datum.value % 20 == 0 ? '' + datum.value : ''", "labelFlush": false, "tickSize": {"condition": {"test": "datum.value % 20 == 0", "value": 6}, "value": 3}, "labelFontSize": 16, "titleFontSize": 22, "labelPadding": 4, "titlePadding": 8}},
         "y": {"field": "E", "type": "quantitative", "scale": {"type": "log", "domain": [9.04, 5715], "nice": false},
           "axis": {"title": "Storage Modulus E' (MPa)", "values": [10,20,30,40,50,60,70,80,90,100,200,300,400,500,600,700,800,900,1000,2000,3000,4000,5000], "labelExpr": "datum.value == 10 ? '10¹' : datum.value == 100 ? '10²' : datum.value == 1000 ? '10³' : ''", "tickSize": {"condition": {"test": "datum.value == 10 || datum.value == 100 || datum.value == 1000", "value": 8}, "value": 4}, "labelFontSize": 17, "titleFontSize": 24, "labelPadding": 3, "titlePadding": -4}},
         "color": {"field": "sample", "type": "nominal", "legend": null,
           "scale": {"domain": ["PLA","PLAgCNF (1% wt.)","PLAgCNF (3% wt.)","PLA/CNF (5% wt.)","PLA/LCNF (5% wt.)","PLLA","PLA (amorphous)"], "range": ["#000000","#33ee33","#ff0000","#55b4f5","#f5a870","#808000","#888888"]}}
        }
       },
       {"data": {"values": [{}]}, "mark": {"type": "text", "align": "left", "baseline": "middle", "fontSize": 23, "fontWeight": "bold"}, "encoding": {"x": {"datum": -17.9}, "y": {"datum": 607}, "text": {"value": "Annealed at 100 °C"}}},
       {"data": {"values": [{}]}, "mark": {"type": "rule", "strokeWidth": 3, "color": "#000000"}, "encoding": {"x": {"datum": -17.1}, "x2": {"datum": -0.6}, "y": {"datum": 349}}},
       {"data": {"values": [{}]}, "mark": {"type": "text", "align": "left", "baseline": "middle", "fontSize": 20}, "encoding": {"x": {"datum": 2.6}, "y": {"datum": 349}, "text": {"value": "PLA"}}},
       {"data": {"values": [{}]}, "mark": {"type": "rule", "strokeWidth": 3, "color": "#33ee33"}, "encoding": {"x": {"datum": -17.1}, "x2": {"datum": -0.6}, "y": {"datum": 221}}},
       {"data": {"values": [{}]}, "mark": {"type": "text", "align": "left", "baseline": "middle", "fontSize": 20}, "encoding": {"x": {"datum": 2.6}, "y": {"datum": 221}, "text": {"value": "PLAgCNF"}}},
       {"data": {"values": [{}]}, "mark": {"type": "text", "align": "left", "baseline": "middle", "fontSize": 11, "dy": 9}, "encoding": {"x": {"datum": 37.5}, "y": {"datum": 221}, "text": {"value": "(1% wt.)"}}},
       {"data": {"values": [{}]}, "mark": {"type": "text", "align": "left", "baseline": "middle", "fontSize": 20}, "encoding": {"x": {"datum": 57.7}, "y": {"datum": 221}, "text": {"value": "(5% wt.)"}}},
       {"data": {"values": [{}]}, "mark": {"type": "rule", "strokeWidth": 3, "color": "#ff0000"}, "encoding": {"x": {"datum": -17.1}, "x2": {"datum": -0.6}, "y": {"datum": 127}}},
       {"data": {"values": [{}]}, "mark": {"type": "text", "align": "left", "baseline": "middle", "fontSize": 20}, "encoding": {"x": {"datum": 2.6}, "y": {"datum": 127}, "text": {"value": "PLAgCNF"}}},
       {"data": {"values": [{}]}, "mark": {"type": "text", "align": "left", "baseline": "middle", "fontSize": 11, "dy": 9}, "encoding": {"x": {"datum": 37.5}, "y": {"datum": 127}, "text": {"value": "(3% wt.)"}}},
       {"data": {"values": [{}]}, "mark": {"type": "text", "align": "left", "baseline": "middle", "fontSize": 20}, "encoding": {"x": {"datum": 57.7}, "y": {"datum": 127}, "text": {"value": "(5% wt.)"}}},
       {"data": {"values": [{}]}, "mark": {"type": "rule", "strokeWidth": 3, "color": "#55b4f5"}, "encoding": {"x": {"datum": -17.1}, "x2": {"datum": -0.6}, "y": {"datum": 72.4}}},
       {"data": {"values": [{}]}, "mark": {"type": "text", "align": "left", "baseline": "middle", "fontSize": 20}, "encoding": {"x": {"datum": 2.6}, "y": {"datum": 72.4}, "text": {"value": "PLA/CNF (5% wt.)"}}},
       {"data": {"values": [{}]}, "mark": {"type": "rule", "strokeWidth": 3, "color": "#f5a870"}, "encoding": {"x": {"datum": -17.1}, "x2": {"datum": -0.6}, "y": {"datum": 46.3}}},
       {"data": {"values": [{}]}, "mark": {"type": "text", "align": "left", "baseline": "middle", "fontSize": 20}, "encoding": {"x": {"datum": 2.6}, "y": {"datum": 46.3}, "text": {"value": "PLA/LCNF (5% wt.)"}}},
       {"data": {"values": [{}]}, "mark": {"type": "rule", "strokeWidth": 3, "color": "#808000"}, "encoding": {"x": {"datum": -17.1}, "x2": {"datum": -0.6}, "y": {"datum": 29.2}}},
       {"data": {"values": [{}]}, "mark": {"type": "text", "align": "left", "baseline": "middle", "fontSize": 20}, "encoding": {"x": {"datum": 2.6}, "y": {"datum": 29.2}, "text": {"value": "PLLA"}}},
       {"data": {"values": [{}]}, "mark": {"type": "text", "align": "left", "baseline": "middle", "fontSize": 23, "fontWeight": "bold"}, "encoding": {"x": {"datum": -17.9}, "y": {"datum": 18.7}, "text": {"value": "Amorphous"}}},
       {"data": {"values": [{}]}, "mark": {"type": "rule", "strokeWidth": 3, "color": "#888888"}, "encoding": {"x": {"datum": -17.1}, "x2": {"datum": -0.6}, "y": {"datum": 11.8}}},
       {"data": {"values": [{}]}, "mark": {"type": "text", "align": "left", "baseline": "middle", "fontSize": 20}, "encoding": {"x": {"datum": 2.6}, "y": {"datum": 11.8}, "text": {"value": "PLA"}}}
      ]
     },
     {
      "data": {"values": [{}]},
      "mark": {"type": "rule", "opacity": 0},
      "encoding": {"y": {"datum": 100, "axis": {"orient": "right", "title": null, "labels": false, "values": [10,20,30,40,50,60,70,80,90,100,200,300,400,500,600,700,800,900,1000,2000,3000,4000,5000], "tickSize": {"condition": {"test": "datum.value == 10 || datum.value == 100 || datum.value == 1000", "value": 8}, "value": 4}}}}
     }
    ],
    "resolve": {"axis": {"y": "independent"}}
   },
   {
    "layer": [
     {
      "data": {"name": "inset"},
      "mark": {"type": "line", "strokeWidth": 1.5},
      "encoding": {
       "x": {"field": "T", "type": "quantitative", "scale": {"domain": [20, 60], "range": [298, 502.3], "nice": false},
         "axis": {"orient": "bottom", "offset": -234.7, "title": "Temperature (°C)", "values": [20,25,30,35,40,45,50,55,60], "labelExpr": "datum.value % 10 == 0 ? '' + datum.value : ''", "labelFlush": false, "tickSize": {"condition": {"test": "datum.value % 10 == 0", "value": 3}, "value": 2}, "domainWidth": 1, "tickWidth": 1, "labelFontSize": 8, "titleFontSize": 10, "labelPadding": 2, "titlePadding": 3}},
       "y": {"field": "E", "type": "quantitative", "scale": {"domain": [2000, 4000], "range": [116.3, 9.6], "nice": false},
         "axis": {"orient": "left", "offset": -298, "title": "E' (MPa)", "values": [2000,2500,3000,3500,4000], "labelExpr": "replace(format(datum.value/1000, '.1f'), '.', ',') + 'x10³'", "labelFlush": false, "tickSize": 3, "domainWidth": 1, "tickWidth": 1, "labelFontSize": 8, "titleFontSize": 10, "labelPadding": 2, "titlePadding": 3}},
       "color": {"field": "sample", "type": "nominal", "legend": null,
         "scale": {"domain": ["PLA","PLAgCNF (1% wt.)","PLAgCNF (3% wt.)","PLA/CNF (5% wt.)","PLA/LCNF (5% wt.)","PLLA","PLA (amorphous)"], "range": ["#000000","#33ee33","#ff0000","#55b4f5","#f0a060","#808000","#888888"]}}
      }
     },
     {"data": {"values": [{}]}, "mark": {"type": "rule", "strokeWidth": 1, "color": "black"}, "encoding": {"x": {"datum": 60}, "y": {"datum": 1950}, "y2": {"datum": 4190}}},
     {"data": {"values": [{}]}, "mark": {"type": "text", "align": "left", "baseline": "middle", "fontSize": 9, "fontWeight": "bold", "color": "#55b4f5"}, "encoding": {"x": {"datum": 23.0}, "y": {"datum": 3756}, "text": {"value": "PLA/CNF"}}},
     {"data": {"values": [{}]}, "mark": {"type": "text", "align": "left", "baseline": "middle", "fontSize": 9, "fontWeight": "bold", "color": "#f0903c"}, "encoding": {"x": {"datum": 22.15}, "y": {"datum": 3406}, "text": {"value": "PLA/LCNF"}}},
     {"data": {"values": [{}]}, "mark": {"type": "text", "align": "left", "baseline": "middle", "fontSize": 9, "fontWeight": "bold", "color": "black"}, "encoding": {"x": {"datum": 24.6}, "y": {"datum": 3157}, "text": {"value": "PLA"}}},
     {"data": {"values": [{}]}, "mark": {"type": "text", "align": "left", "baseline": "middle", "fontSize": 9, "fontWeight": "bold", "color": "black"}, "encoding": {"x": {"datum": 24.6}, "y": {"datum": 2881}, "text": {"value": "PLA"}}},
     {"data": {"values": [{}]}, "mark": {"type": "text", "align": "left", "baseline": "middle", "fontSize": 6, "fontWeight": "bold", "color": "black", "dy": 4}, "encoding": {"x": {"datum": 28.1}, "y": {"datum": 2881}, "text": {"value": "am"}}},
     {"data": {"values": [{}]}, "mark": {"type": "text", "align": "left", "baseline": "middle", "fontSize": 9, "fontWeight": "bold", "color": "#808000"}, "encoding": {"x": {"datum": 31.9}, "y": {"datum": 2782}, "text": {"value": "PLLA"}}},
     {"data": {"values": [{}]}, "mark": {"type": "text", "align": "left", "baseline": "middle", "fontSize": 9, "fontWeight": "bold", "color": "#ff0000"}, "encoding": {"x": {"datum": 22.15}, "y": {"datum": 2538}, "text": {"value": "PLAgCNF"}}},
     {"data": {"values": [{}]}, "mark": {"type": "text", "align": "left", "baseline": "middle", "fontSize": 6, "fontWeight": "bold", "color": "#ff0000", "dy": 4}, "encoding": {"x": {"datum": 30.3}, "y": {"datum": 2538}, "text": {"value": "(3% wt.)"}}},
     {"data": {"values": [{}]}, "mark": {"type": "text", "align": "left", "baseline": "middle", "fontSize": 9, "fontWeight": "bold", "color": "#33ee33"}, "encoding": {"x": {"datum": 22.5}, "y": {"datum": 2144}, "text": {"value": "PLAgCNF"}}},
     {"data": {"values": [{}]}, "mark": {"type": "text", "align": "left", "baseline": "middle", "fontSize": 6, "fontWeight": "bold", "color": "#33ee33", "dy": 4}, "encoding": {"x": {"datum": 30.7}, "y": {"datum": 2144}, "text": {"value": "(1% wt.)"}}}
    ]
   }
  ],
  "resolve": {"scale": {"x": "independent", "y": "independent", "color": "independent"}, "axis": {"x": "independent", "y": "independent"}}
 }
]
}
